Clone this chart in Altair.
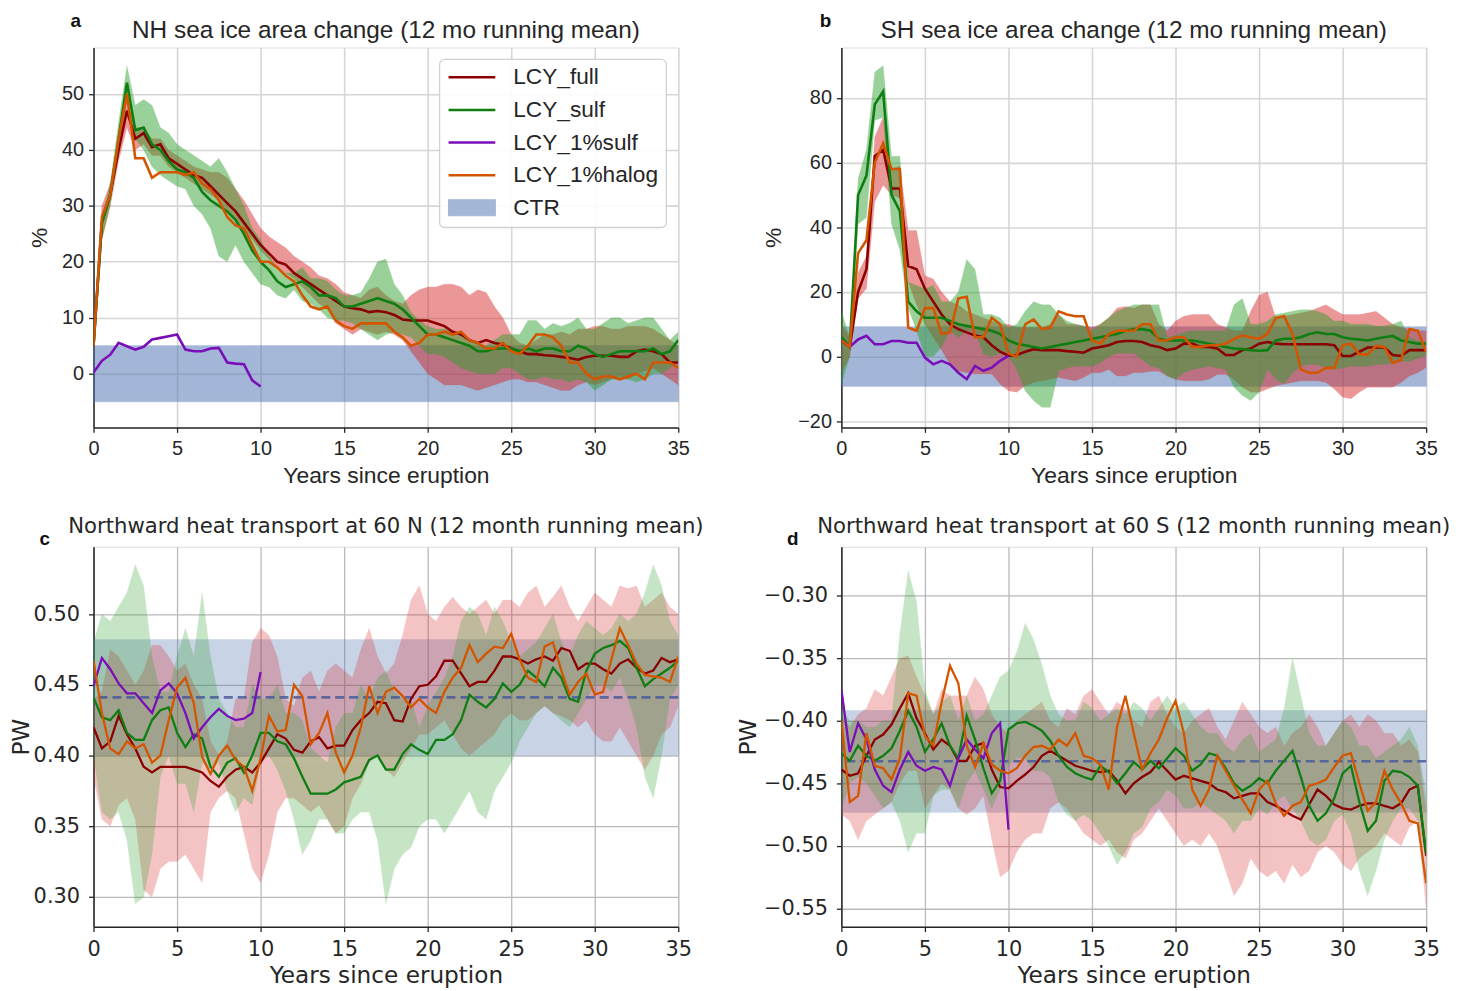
import altair as alt
import pandas as pd

YEARS = [i * 0.5 for i in range(71)]
YEARS_1PCT = YEARS[:21]
SERIES = ["LCY_full", "LCY_sulf", "LCY_1%sulf", "LCY_1%halog"]
LINE_COLORS = ["#8b0000", "#0e7d12", "#7a0eb8", "#d45500"]
RED_FILL = "#d62728"
GREEN_FILL = "#2ca02c"
CTR_COLOR = "#4c72b0"
X_TICKS = [0, 5, 10, 15, 20, 25, 30, 35]

# ---------------- panel a : NH sea ice area change (%) ----------------
A_FULL = [5, 27, 32, 40, 47, 42, 43, 40.5, 41, 38.5,
          37.5, 36.5, 35.5, 35, 33.5, 32, 30.5, 29, 27, 25,
          23, 21.5, 20, 19.5, 18, 17, 16, 15, 14, 13,
          12, 11.7, 11.5, 11, 11.2, 11, 10.5, 9.7, 9.5, 9.5,
          9.5, 9, 8.5, 7.5, 7, 6, 5.5, 6, 5.5, 5.2,
          4.5, 4, 3.5, 3.5, 3.3, 3.2, 3, 2.8, 2.5, 3,
          3.2, 3.2, 3.2, 3, 3, 4, 4.3, 4, 3.5, 2,
          2]
A_FULL_LO = [4, 24, 30, 38, 44, 40, 41, 39, 39, 37,
             36, 35, 34, 33, 32, 31, 29, 27.5, 25.5, 24,
             22, 20.5, 19, 18, 17, 15.5, 14, 12.5, 11.5, 9,
             8, 7, 8, 7.5, 7, 7.5, 7, 6, 4, 2,
             0, -1, -2, -2, -2, -2.5, -3, -2.5, -2, -1.5,
             -1, -1, -1.5, -1.5, -2, -2.5, -3, -3, -2, -1.5,
             -2, -1.5, -1, -0.5, -1, 0, 0.5, 1, 0, -1,
             -2]
A_FULL_HI = [6, 30, 34, 42, 49, 44, 44, 42, 42, 40,
             39, 38, 37, 36.5, 36, 36, 35, 33, 31, 28.5,
             26, 24.5, 23.5, 22.5, 21, 20, 19, 17.5, 17, 16,
             14.5, 14, 13.5, 15, 15.5, 14, 13, 12.5, 14, 15,
             15.5, 15.5, 16, 16, 15.5, 14, 15, 14.5, 12, 10,
             7, 5.5, 5, 6, 7, 7, 7.5, 7, 8, 8,
             8.5, 8.5, 8, 8, 8.5, 8.5, 8.5, 8, 7, 6,
             5]
A_SULF = [5, 27, 32, 42, 52, 43.5, 44, 41, 40, 38,
          36.5, 36, 35, 32.5, 31, 30, 29, 27.5, 25, 22,
          20, 18.5, 16.5, 15.5, 16, 16.5, 15.5, 14, 14, 13.5,
          12, 12, 12.5, 13, 13.5, 13, 12.5, 11.5, 10, 8.5,
          7, 7, 6.5, 6, 5.5, 5, 4, 4, 4.5, 4.5,
          4.5, 4, 4.5, 4, 4.5, 4.5, 4, 4, 5, 4.5,
          3.5, 3, 3.5, 4, 4, 4, 4, 4.5, 3.5, 4,
          6]
A_SULF_LO = [4, 24, 30, 40, 49, 42, 40, 37, 35.5, 34.5,
             33.5, 33, 30, 28.5, 26, 21, 20, 23, 20, 18,
             16, 15.5, 14, 13.5, 15, 13, 12.5, 11.5, 10, 9.5,
             9.5, 9, 8, 7, 6, 7, 7.5, 7, 6.5, 5,
             3.5, 3.5, 3, 2, 1, 0.5, 0, 0, 0, 1,
             1, 0, -1, -1, -0.5, -1, -1, -1.5, -1, -1.5,
             -3, -2, -1, -1, -1, -1.5, -1, 0, 0, 1,
             2]
A_SULF_HI = [6, 28, 34, 45, 55, 48, 49, 48, 44, 43,
             41, 40, 39, 38, 37, 38.5, 36, 33, 30, 26,
             24, 21, 19, 18, 18, 19, 17, 17, 16.5, 15,
             14, 14, 14.5, 17, 20, 20.5, 16, 14, 11, 9.5,
             8.5, 8, 8, 7.5, 7, 6, 5.5, 5, 6, 7,
             7, 7, 9.5, 9.5, 8, 9, 8.5, 9, 10, 8,
             8, 9, 10, 10, 9, 9.5, 10, 10, 8, 6,
             7.5]
A_HALOG = [5, 28, 32, 42, 50, 38.5, 38.5, 35, 36, 36,
           36, 35.5, 36, 34, 33, 31, 28, 26.5, 26, 23,
           20, 20, 19, 17.5, 16.5, 14, 12, 11.5, 12, 9.5,
           8.5, 8, 9, 9, 9, 9, 7.5, 6.5, 5, 5.5,
           7, 7, 7.5, 7, 7.5, 6, 5.5, 4.5, 4.5, 5.5,
           4, 3.5, 5, 7, 7, 6.5, 5, 2, 2, 0,
           -1, -0.5, -0.5, -1, -0.5, 0, -1, 2, 2, 2,
           1]
A_1PCT = [0.2, 2.3, 3.4, 5.5, 4.9, 4.3, 4.8, 6.1, 6.4, 6.7,
          7.0, 4.3, 4, 4, 4.5, 4.6, 2, 1.8, 1.7, -1.2,
          -2.3]
A_CTR = [-5.0, 5.0]

# ---------------- panel b : SH sea ice area change (%) ----------------
B_FULL = [5, 3, 20, 27, 62, 64, 52, 52, 28, 27,
          21, 17, 13, 10, 8.5, 7.5, 6.5, 6, 3.5, 1.5,
          0.3, 0.5, 1.5, 2.3, 2, 2, 2, 1.7, 1.5, 1.2,
          2.5, 3, 3.5, 4.5, 4.8, 4.8, 4.5, 3.5, 3, 2,
          2.5, 4, 4, 3, 3, 2.5, 0.5, 0.5, 2, 2.5,
          4, 4.5, 4, 3.8, 3.8, 3.8, 3.8, 3.8, 3.8, 3.5,
          0.2, 0.2, 1.5, 2.8, 2.8, 2.8, 0.5, 0.2, 2, 2,
          2]
B_FULL_LO = [-5, 0, 18, 21, 48, 53, 50, 49, 23, 16,
             10, 6, 2, -2.4, -4.4, -5, -5.4, -5.4, -5.4, -8.5,
             -10.6, -11, -9, -8, -7.5, -7, -6.5, -7, -7.5, -6.5,
             -5, -5, -4, -6, -6, -5, -5, -4.5, -4.5, -6,
             -7, -7.5, -7.5, -7.5, -7, -5.5, -5.5, -7, -9.5, -11,
             -11, -10, -9, -8.5, -8, -7.5, -7.5, -7.5, -8, -10,
             -12.6, -13, -11, -9.5, -9.5, -9.5, -9.5, -8, -6, -5,
             -3.4]
B_FULL_HI = [10, 6, 26, 31, 68, 74, 58, 59, 39, 39,
             25, 24, 20, 17, 16, 14, 13, 12, 11, 10,
             10, 9, 9, 9, 9, 10, 13, 10, 10, 9.5,
             9, 10, 12, 15, 15.5, 15, 16, 16, 10, 8,
             11, 12.5, 13, 13, 13, 10, 9, 8, 8, 14,
             19, 20, 12, 12.5, 13, 13.5, 14, 15, 16, 14.5,
             13, 13, 13, 13.5, 14, 12, 10, 9, 8.5, 8,
             8]
B_SULF = [6, 3, 50, 56, 78, 82, 50, 45, 17, 14,
          12, 12, 12, 11, 10, 9.5, 9, 8.5, 8, 7,
          5, 4, 3.5, 3, 2.5, 3, 3.5, 4, 4.5, 5,
          5.5, 6, 6.5, 7, 8, 8.5, 8.5, 8, 5.5, 5,
          5, 5, 5, 4.5, 4, 3.5, 3, 2.5, 2.3, 2,
          1.8, 2, 5, 5.5, 5.5, 6, 7, 7.5, 7, 7,
          6, 5.5, 5.3, 5, 5.5, 6, 6.4, 5, 4.5, 4,
          4]
B_SULF_LO = [-8.5, 0, 41, 43, 73, 74, 41, 33, 15, 8,
             0, 0, 3, 8, 6, 8, 8, 0.7, 0, 1,
             0, -4, -10.6, -13.6, -15.7, -15.7, -4.4, -3.5, -3, -3,
             -3, -2, 0, 1, 1, 1, -1, -3, -3.5, -6,
             -7, -5, -4, -3.5, -3, -3.5, -4, -9.5, -12, -13.6,
             -11, -4, -7, -8.5, -5, -3, -2.4, -2.5, -3.5, -4,
             -3.5, -3, -3, -3, -2.5, -2.4, -2, -1.5, -1.5, -0.5,
             0.5]
B_SULF_HI = [14, 6, 55, 64, 88, 90, 62, 62, 23, 22,
             21, 22, 17, 17, 20, 30, 27, 13, 13, 12,
             9, 10, 14, 17, 16, 16, 13, 11, 10, 9.5,
             8, 10, 12, 14, 15, 16, 16, 16, 16, 6,
             6.5, 7.5, 8, 8, 8, 8, 8, 16, 18, 10,
             10, 11, 13, 13.5, 14, 14.5, 14.5, 14, 13, 11,
             11, 10, 10, 10, 9.5, 9.5, 10, 11, 6, 5,
             4]
B_HALOG = [5, 3, 32, 36, 60, 66, 58, 58, 9, 8,
           15, 15, 7, 7.5, 18, 18.5, 6, 6, 12, 10,
           1, 0, 10, 11.5, 8.5, 9, 14, 13, 12.5, 12.5,
           5, 4, 7, 8, 8, 8, 10, 10, 5, 5,
           6, 6, 3, 3, 3.5, 3.5, 4, 5.5, 6.5, 6,
           5.5, 7, 12, 12.5, 7, -4, -5, -5, -3.5, -3.5,
           3.5, 4, 0.7, 0.7, 3.3, 3, -2, -1, 8.5, 8,
           1.5]
B_1PCT = [5, 3, 5.3, 6.4, 3.8, 3.8, 4.8, 4.8, 4.3, 4.3,
          -0.3, -2.4, -1.3, -2.4, -5, -7, -2.9, -4.4, -3.4, -1.3,
          0.2]
B_CTR = [-9.2, 9.2]

# ---------------- panel c : northward heat transport at 60 N (PW) ----------------
C_FULL = [0.420, 0.405, 0.410, 0.428, 0.415, 0.405, 0.392, 0.388, 0.392, 0.392,
          0.392, 0.392, 0.390, 0.388, 0.382, 0.378, 0.385, 0.390, 0.392, 0.388,
          0.395, 0.405, 0.415, 0.412, 0.404, 0.402, 0.410, 0.413, 0.405, 0.407,
          0.407, 0.418, 0.425, 0.430, 0.438, 0.437, 0.425, 0.424, 0.440, 0.449,
          0.450, 0.456, 0.467, 0.467, 0.458, 0.449, 0.452, 0.452, 0.460, 0.470,
          0.470, 0.468, 0.465, 0.468, 0.470, 0.467, 0.476, 0.474, 0.461, 0.465,
          0.465, 0.461, 0.458, 0.465, 0.468, 0.462, 0.458, 0.460, 0.469, 0.466,
          0.468]
C_FULL_LO = [0.385, 0.355, 0.350, 0.365, 0.370, 0.355, 0.305, 0.300, 0.320, 0.325,
             0.325, 0.330, 0.320, 0.310, 0.360, 0.370, 0.375, 0.370, 0.345, 0.320,
             0.310, 0.330, 0.360, 0.370, 0.370, 0.365, 0.360, 0.365, 0.355, 0.345,
             0.350, 0.370, 0.380, 0.395, 0.400, 0.390, 0.385, 0.395, 0.405, 0.415,
             0.415, 0.420, 0.425, 0.415, 0.405, 0.400, 0.405, 0.410, 0.415, 0.425,
             0.430, 0.425, 0.425, 0.430, 0.435, 0.430, 0.428, 0.425, 0.420, 0.425,
             0.415, 0.410, 0.410, 0.420, 0.410, 0.400, 0.390, 0.400, 0.415, 0.420,
             0.435]
C_FULL_HI = [0.440, 0.445, 0.475, 0.470, 0.460, 0.450, 0.460, 0.478, 0.478, 0.470,
             0.460, 0.465, 0.450, 0.440, 0.410, 0.400, 0.410, 0.440, 0.440, 0.480,
             0.490, 0.485, 0.470, 0.440, 0.435, 0.455, 0.460, 0.445, 0.460, 0.465,
             0.460, 0.455, 0.475, 0.490, 0.470, 0.458, 0.465, 0.485, 0.510, 0.520,
             0.500, 0.495, 0.505, 0.512, 0.505, 0.500, 0.505, 0.510, 0.500, 0.510,
             0.510, 0.505, 0.515, 0.520, 0.505, 0.512, 0.520, 0.505, 0.495, 0.505,
             0.515, 0.510, 0.505, 0.520, 0.518, 0.520, 0.505, 0.510, 0.515, 0.505,
             0.500]
C_SULF = [0.441, 0.427, 0.425, 0.432, 0.416, 0.411, 0.411, 0.425, 0.432, 0.434,
          0.416, 0.406, 0.415, 0.412, 0.392, 0.385, 0.395, 0.398, 0.388, 0.400,
          0.416, 0.416, 0.410, 0.408, 0.398, 0.385, 0.373, 0.373, 0.373, 0.376,
          0.381, 0.383, 0.385, 0.397, 0.400, 0.390, 0.390, 0.401, 0.408, 0.404,
          0.401, 0.411, 0.411, 0.415, 0.425, 0.443, 0.438, 0.434, 0.440, 0.451,
          0.445, 0.450, 0.460, 0.455, 0.449, 0.462, 0.455, 0.440, 0.438, 0.460,
          0.472, 0.476, 0.478, 0.481, 0.476, 0.462, 0.449, 0.454, 0.458, 0.462,
          0.467]
C_SULF_LO = [0.400, 0.360, 0.355, 0.360, 0.340, 0.295, 0.300, 0.330, 0.385, 0.400,
             0.380, 0.380, 0.360, 0.395, 0.390, 0.395, 0.375, 0.360, 0.370, 0.365,
             0.395, 0.400, 0.390, 0.375, 0.355, 0.330, 0.340, 0.355, 0.355, 0.345,
             0.345, 0.355, 0.360, 0.360, 0.340, 0.295, 0.320, 0.330, 0.335, 0.350,
             0.355, 0.355, 0.345, 0.355, 0.365, 0.375, 0.360, 0.355, 0.375, 0.385,
             0.395, 0.410, 0.420, 0.430, 0.435, 0.430, 0.425, 0.420, 0.430, 0.440,
             0.450, 0.450, 0.445, 0.455, 0.440, 0.420, 0.385, 0.370, 0.400, 0.440,
             0.450]
C_SULF_HI = [0.480, 0.500, 0.495, 0.505, 0.515, 0.535, 0.520, 0.470, 0.445, 0.445,
             0.470, 0.490, 0.470, 0.515, 0.470, 0.440, 0.430, 0.420, 0.420, 0.450,
             0.440, 0.440, 0.450, 0.430, 0.430, 0.425, 0.405, 0.400, 0.395, 0.420,
             0.430, 0.430, 0.450, 0.440, 0.455, 0.460, 0.445, 0.440, 0.440, 0.420,
             0.435, 0.445, 0.455, 0.470, 0.495, 0.505, 0.500, 0.485, 0.505, 0.495,
             0.480, 0.470, 0.475, 0.480, 0.490, 0.500, 0.480, 0.470, 0.485, 0.495,
             0.490, 0.485, 0.490, 0.500, 0.495, 0.500, 0.515, 0.535, 0.520, 0.495,
             0.485]
C_HALOG = [0.467, 0.430, 0.405, 0.401, 0.410, 0.405, 0.408, 0.395, 0.400, 0.425,
           0.448, 0.455, 0.437, 0.399, 0.387, 0.400, 0.407, 0.397, 0.392, 0.375,
           0.398, 0.428, 0.417, 0.418, 0.450, 0.442, 0.408, 0.416, 0.430, 0.402,
           0.388, 0.400, 0.420, 0.449, 0.430, 0.445, 0.448, 0.442, 0.434, 0.440,
           0.434, 0.430, 0.445, 0.455, 0.462, 0.478, 0.466, 0.472, 0.477, 0.476,
           0.486, 0.468, 0.455, 0.452, 0.477, 0.480, 0.460, 0.443, 0.452, 0.458,
           0.443, 0.445, 0.468, 0.490, 0.478, 0.465, 0.457, 0.456, 0.455, 0.452,
           0.470]
C_1PCT = [0.449, 0.469, 0.461, 0.451, 0.444, 0.444, 0.437, 0.430, 0.446, 0.451,
          0.444, 0.430, 0.412, 0.420, 0.427, 0.433, 0.428, 0.425, 0.426, 0.430,
          0.459]
C_CTR = [0.4001, 0.4819, 0.4411]

# ---------------- panel d : northward heat transport at 60 S (PW) ----------------
D_FULL = [-0.439, -0.444, -0.442, -0.428, -0.415, -0.411, -0.403, -0.390, -0.378, -0.398,
          -0.410, -0.423, -0.415, -0.420, -0.432, -0.432, -0.420, -0.418, -0.439, -0.453,
          -0.454, -0.448, -0.443, -0.437, -0.428, -0.424, -0.428, -0.432, -0.436, -0.438,
          -0.440, -0.441, -0.440, -0.448, -0.458, -0.450, -0.445, -0.441, -0.433, -0.440,
          -0.447, -0.444, -0.446, -0.448, -0.450, -0.455, -0.457, -0.462, -0.460, -0.458,
          -0.458, -0.465, -0.468, -0.472, -0.476, -0.479, -0.467, -0.455, -0.460, -0.467,
          -0.470, -0.471, -0.468, -0.466, -0.466, -0.468, -0.470, -0.466, -0.455, -0.452,
          -0.508]
D_FULL_LO = [-0.475, -0.480, -0.495, -0.480, -0.475, -0.470, -0.465, -0.450, -0.440, -0.440,
             -0.470, -0.460, -0.450, -0.455, -0.470, -0.475, -0.470, -0.460, -0.495, -0.525,
             -0.520, -0.505, -0.495, -0.490, -0.490, -0.470, -0.465, -0.470, -0.480, -0.490,
             -0.495, -0.500, -0.495, -0.505, -0.510, -0.495, -0.490, -0.480, -0.470, -0.480,
             -0.490, -0.500, -0.495, -0.500, -0.490, -0.500, -0.520, -0.540, -0.530, -0.510,
             -0.520, -0.525, -0.520, -0.530, -0.515, -0.525, -0.520, -0.505, -0.500, -0.505,
             -0.515, -0.520, -0.510, -0.505, -0.500, -0.490, -0.495, -0.500, -0.485, -0.480,
             -0.550]
D_FULL_HI = [-0.395, -0.405, -0.395, -0.390, -0.375, -0.380, -0.365, -0.350, -0.348, -0.365,
             -0.380, -0.395, -0.375, -0.380, -0.380, -0.380, -0.365, -0.375, -0.395, -0.405,
             -0.410, -0.400, -0.395, -0.390, -0.385, -0.400, -0.405, -0.390, -0.395, -0.380,
             -0.375, -0.385, -0.395, -0.385, -0.390, -0.400, -0.405, -0.385, -0.380, -0.395,
             -0.405, -0.410, -0.400, -0.395, -0.390, -0.405, -0.415, -0.400, -0.385, -0.395,
             -0.405, -0.410, -0.405, -0.420, -0.410, -0.405, -0.395, -0.405, -0.420, -0.410,
             -0.400, -0.395, -0.405, -0.395, -0.400, -0.410, -0.410, -0.420, -0.415, -0.425,
             -0.470]
D_SULF = [-0.426, -0.432, -0.420, -0.428, -0.432, -0.428, -0.422, -0.408, -0.392, -0.405,
          -0.425, -0.415, -0.402, -0.420, -0.430, -0.396, -0.415, -0.438, -0.458, -0.448,
          -0.407, -0.402, -0.401, -0.404, -0.408, -0.416, -0.428, -0.437, -0.442, -0.445,
          -0.447, -0.436, -0.441, -0.450, -0.442, -0.433, -0.439, -0.432, -0.438, -0.430,
          -0.422, -0.428, -0.440, -0.435, -0.426, -0.428, -0.438, -0.450, -0.456, -0.452,
          -0.446, -0.450, -0.440, -0.432, -0.424, -0.445, -0.468, -0.480, -0.474, -0.462,
          -0.442, -0.436, -0.465, -0.488, -0.480, -0.448, -0.440, -0.441, -0.445, -0.452,
          -0.506]
D_SULF_LO = [-0.470, -0.450, -0.445, -0.450, -0.460, -0.470, -0.465, -0.480, -0.505, -0.490,
             -0.490, -0.460, -0.455, -0.455, -0.470, -0.450, -0.440, -0.455, -0.470, -0.455,
             -0.435, -0.430, -0.430, -0.440, -0.440, -0.445, -0.465, -0.475, -0.480, -0.475,
             -0.480, -0.490, -0.500, -0.515, -0.505, -0.490, -0.485, -0.470, -0.465, -0.455,
             -0.460, -0.470, -0.470, -0.465, -0.470, -0.475, -0.480, -0.490, -0.480, -0.480,
             -0.470, -0.475, -0.465, -0.460, -0.470, -0.480, -0.495, -0.500, -0.495, -0.480,
             -0.475, -0.490, -0.520, -0.540, -0.520, -0.495, -0.480, -0.470, -0.470, -0.480,
             -0.510]
D_SULF_HI = [-0.390, -0.400, -0.400, -0.405, -0.405, -0.400, -0.400, -0.330, -0.280, -0.305,
             -0.375, -0.395, -0.385, -0.380, -0.400, -0.380, -0.400, -0.395, -0.380, -0.365,
             -0.360, -0.345, -0.322, -0.335, -0.355, -0.380, -0.395, -0.400, -0.400, -0.385,
             -0.390, -0.400, -0.395, -0.390, -0.395, -0.385, -0.390, -0.400, -0.390, -0.380,
             -0.390, -0.385, -0.395, -0.405, -0.410, -0.410, -0.420, -0.425, -0.415, -0.410,
             -0.425, -0.420, -0.415, -0.390, -0.350, -0.380, -0.410, -0.420, -0.420, -0.410,
             -0.400, -0.405, -0.420, -0.420, -0.430, -0.425, -0.420, -0.415, -0.405, -0.420,
             -0.460]
D_HALOG = [-0.400, -0.465, -0.460, -0.410, -0.436, -0.438, -0.447, -0.430, -0.378, -0.380,
           -0.412, -0.420, -0.385, -0.356, -0.370, -0.420, -0.437, -0.418, -0.435, -0.440,
           -0.442, -0.438, -0.428, -0.421, -0.420, -0.423, -0.415, -0.420, -0.410, -0.428,
           -0.430, -0.435, -0.455, -0.405, -0.380, -0.410, -0.439, -0.426, -0.415, -0.398,
           -0.384, -0.410, -0.455, -0.468, -0.455, -0.428, -0.440, -0.452, -0.463, -0.474,
           -0.455, -0.448, -0.466, -0.476, -0.468, -0.465, -0.452, -0.450, -0.447, -0.437,
           -0.428, -0.426, -0.450, -0.472, -0.465, -0.440, -0.455, -0.466, -0.480, -0.482,
           -0.530]
D_1PCT = [-0.375, -0.425, -0.402, -0.415, -0.439, -0.452, -0.457, -0.439, -0.425, -0.436,
          -0.440, -0.437, -0.439, -0.452, -0.430, -0.415, -0.423, -0.430, -0.410, -0.402,
          -0.487]
D_CTR = [-0.4731, -0.3918, -0.4324]

TEXT = "#262626"


def lines_frame(full, sulf, pct, halog):
    rows = []
    for name, vals, ts in [("LCY_full", full, YEARS), ("LCY_sulf", sulf, YEARS),
                           ("LCY_1%sulf", pct, YEARS_1PCT), ("LCY_1%halog", halog, YEARS)]:
        assert len(vals) == len(ts), (name, len(vals))
        for t, v in zip(ts, vals):
            rows.append({"t": t, "v": v, "s": name})
    return pd.DataFrame(rows)


def band_frame(lo, hi):
    assert len(lo) == len(YEARS) and len(hi) == len(YEARS)
    return pd.DataFrame({"t": YEARS, "lo": lo, "hi": hi})


def panel(p):
    font = p["font"]
    xaxis = alt.Axis(values=X_TICKS, title="Years since eruption", grid=True,
                     gridColor=p["grid"], gridWidth=p["gridw"],
                     domainColor=TEXT, domainWidth=1.5, tickColor=TEXT, tickWidth=1.3,
                     tickSize=5, labelFont=font, labelFontSize=p["lfs"], labelColor=TEXT,
                     labelPadding=p["xlpad"], titleFont=font, titleFontSize=p["tfs"],
                     titleFontWeight="normal", titleColor=TEXT, titlePadding=p["xtpad"],
                     labelFlush=False)
    yaxis = alt.Axis(values=p["yticks"], format=p["fmt"], title=p["ytitle"], grid=True,
                     gridColor=p["grid"], gridWidth=p["gridw"],
                     domainColor=TEXT, domainWidth=1.5, tickColor=TEXT, tickWidth=1.3,
                     tickSize=5, labelFont=font, labelFontSize=p["lfs"], labelColor=TEXT,
                     labelPadding=p["ylpad"], titleFont=font, titleFontSize=p["tfs"],
                     titleFontWeight="normal", titleColor=TEXT, titlePadding=p["ytpad"],
                     labelFlush=False)
    xs = alt.Scale(domain=[0, 35], nice=False, zero=False)
    ys = alt.Scale(domain=p["ydom"], nice=False, zero=False)

    def X(f):
        return alt.X(f"{f}:Q", scale=xs, axis=xaxis)

    def Y(f):
        return alt.Y(f"{f}:Q", scale=ys, axis=yaxis)

    ctr = p["ctr"]
    ctr_df = pd.DataFrame({"x0": [0], "x1": [35], "lo": [ctr[0]], "hi": [ctr[1]]})
    layers = [
        alt.Chart(ctr_df).mark_rect(fill=CTR_COLOR, opacity=p["ctr_op"], stroke=CTR_COLOR,
                                    strokeWidth=1.2, strokeOpacity=0.6)
        .encode(x=X("x0"), x2="x1:Q", y=Y("lo"), y2="hi:Q"),
        alt.Chart(band_frame(p["full_lo"], p["full_hi"])).mark_area(
            color=RED_FILL, opacity=p["band_op"], stroke=RED_FILL, strokeWidth=1,
            strokeOpacity=0.3, clip=True)
        .encode(x=X("t"), y=Y("lo"), y2="hi:Q"),
        alt.Chart(band_frame(p["sulf_lo"], p["sulf_hi"])).mark_area(
            color=GREEN_FILL, opacity=p["band_op"], stroke=GREEN_FILL, strokeWidth=1,
            strokeOpacity=0.3, clip=True)
        .encode(x=X("t"), y=Y("lo"), y2="hi:Q"),
    ]
    if len(ctr) > 2:
        layers.append(
            alt.Chart(pd.DataFrame({"m": [ctr[2]]})).mark_rule(
                color="#4a5c9a", strokeWidth=2.6, strokeDash=[9, 5], opacity=0.85)
            .encode(y=Y("m"))
        )
    layers.append(
        alt.Chart(lines_frame(p["full"], p["sulf"], p["pct"], p["halog"]))
        .mark_line(strokeWidth=p["lw"], clip=True)
        .encode(x=X("t"), y=Y("v"),
                color=alt.Color("s:N", scale=alt.Scale(domain=SERIES, range=LINE_COLORS),
                                legend=None))
    )
    one = pd.DataFrame({"k": [0]})
    # panel letter and panel title
    layers.append(
        alt.Chart(one).mark_text(text=p["letter"], font="Liberation Sans", fontSize=19,
                                 fontWeight="bold", color="#111111", align="center",
                                 baseline="middle")
        .encode(x=alt.value(p["lx"]), y=alt.value(p["ly"]))
    )
    layers.append(
        alt.Chart(one).mark_text(text=p["title"], font=font, fontSize=p["titlefs"],
                                 color=TEXT, align="center", baseline="middle")
        .encode(x=alt.value(p["w"] / 2), y=alt.value(p["ty"]))
    )
    if p.get("legend"):
        layers.append(
            alt.Chart(one).mark_rect(fill="white", stroke="#cfcfcf", strokeWidth=1.3,
                                     cornerRadius=5, opacity=0.92)
            .encode(x=alt.value(348), x2=alt.value(576), y=alt.value(12), y2=alt.value(181))
        )
        for i, (name, col) in enumerate(zip(SERIES, LINE_COLORS)):
            yy = 30 + 32.8 * i
            layers.append(alt.Chart(one).mark_rule(color=col, strokeWidth=2.5)
                          .encode(x=alt.value(357), x2=alt.value(404), y=alt.value(yy)))
            layers.append(alt.Chart(one).mark_text(text=name, font=font, fontSize=22.8,
                                                   color=TEXT, align="left",
                                                   baseline="middle")
                          .encode(x=alt.value(422), y=alt.value(yy)))
        yy = 30 + 32.8 * 4
        layers.append(alt.Chart(one).mark_rect(fill=CTR_COLOR, opacity=0.5, stroke=CTR_COLOR,
                                               strokeWidth=1.2)
                      .encode(x=alt.value(357), x2=alt.value(404), y=alt.value(yy - 8),
                              y2=alt.value(yy + 8)))
        layers.append(alt.Chart(one).mark_text(text="CTR", font=font, fontSize=22.8,
                                               color=TEXT, align="left", baseline="middle")
                      .encode(x=alt.value(422), y=alt.value(yy)))

    return alt.layer(*layers).properties(width=p["w"], height=p["h"])


TOP = dict(font="Liberation Sans", grid="#d6d6d6", gridw=1.6, lfs=20, tfs=23,
           titlefs=24.5, xlpad=6, xtpad=6, ylpad=5, w=588, h=382, ty=-17,
           band_op=0.48, ctr_op=0.5, lw=2.6, fmt="d")
BOT = dict(font="DejaVu Sans", grid="#bababa", gridw=1.3, lfs=21, tfs=23.3,
           titlefs=21.3, xlpad=7, xtpad=5, ylpad=9, w=588, h=382, ty=-20,
           band_op=0.27, ctr_op=0.3, lw=2.3, fmt=".2f")

pa = panel(dict(TOP, title="NH sea ice area change (12 mo running mean)", letter="a",
                lx=-18, ly=-27, ydom=[-9.6, 58.3], yticks=[0, 10, 20, 30, 40, 50],
                ytitle="%", ytpad=10, ctr=A_CTR, full=A_FULL, full_lo=A_FULL_LO,
                full_hi=A_FULL_HI, sulf=A_SULF, sulf_lo=A_SULF_LO, sulf_hi=A_SULF_HI,
                pct=A_1PCT, halog=A_HALOG, legend=True))
pb = panel(dict(TOP, title="SH sea ice area change (12 mo running mean)", letter="b",
                lx=-16, ly=-27, ydom=[-21.9, 95.6], yticks=[-20, 0, 20, 40, 60, 80],
                ytitle="%", ytpad=12, ctr=B_CTR, full=B_FULL, full_lo=B_FULL_LO,
                full_hi=B_FULL_HI, sulf=B_SULF, sulf_lo=B_SULF_LO, sulf_hi=B_SULF_HI,
                pct=B_1PCT, halog=B_HALOG))
pc = panel(dict(BOT, title="Northward heat transport at 60 N (12 month running mean)",
                letter="c", lx=-49, ly=-8, ydom=[0.279, 0.5476],
                yticks=[0.30, 0.35, 0.40, 0.45, 0.50], ytitle="PW", ytpad=0, ctr=C_CTR,
                full=C_FULL, full_lo=C_FULL_LO, full_hi=C_FULL_HI, sulf=C_SULF,
                sulf_lo=C_SULF_LO, sulf_hi=C_SULF_HI, pct=C_1PCT, halog=C_HALOG))
pd_ = panel(dict(BOT, title="Northward heat transport at 60 S (12 month running mean)",
                 letter="d", lx=-49, ly=-8, ydom=[-0.5646, -0.2609],
                 yticks=[-0.55, -0.50, -0.45, -0.40, -0.35, -0.30], ytitle="PW", ytpad=3,
                 ctr=D_CTR, full=D_FULL, full_lo=D_FULL_LO, full_hi=D_FULL_HI, sulf=D_SULF,
                 sulf_lo=D_SULF_LO, sulf_hi=D_SULF_HI, pct=D_1PCT, halog=D_HALOG))

chart = alt.concat(pa, pb, pc, pd_, columns=2, spacing={"row": 120, "column": 164},
                   bounds="flush").properties(
    padding={"left": 0, "top": 0, "right": 2, "bottom": 2}
).configure_view(stroke=TEXT, strokeWidth=1.5).configure(background="white")

chart.save("out.html", embed_options={"renderer": "svg", "actions": False})
